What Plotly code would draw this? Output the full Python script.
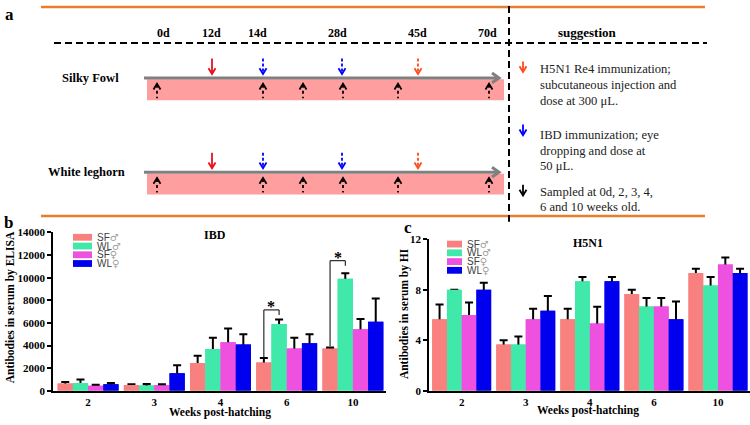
import plotly.graph_objects as go

# ---------------- data ----------------
weeks = ["2", "3", "4", "6", "10"]
series_names = ["SF♂", "WL♂", "SF♀", "WL♀"]
series_colors = ["#F8807E", "#40E8AA", "#EE50DF", "#0000EE"]

ibd_sf_m = [650, 520, 2450, 2500, 3750]
ibd_wl_m = [700, 480, 3700, 5900, 9900]
ibd_sf_f = [450, 500, 4300, 3750, 5450]
ibd_wl_f = [580, 1550, 4100, 4200, 6100]
ibd_sf_m_err = [130, 60, 650, 400, 80]
ibd_wl_m_err = [300, 130, 1000, 400, 500]
ibd_sf_f_err = [80, 80, 1200, 950, 900]
ibd_wl_f_err = [120, 700, 900, 800, 2050]

h5_sf_m = [5.67, 3.67, 5.67, 7.67, 9.33]
h5_wl_m = [8.0, 3.67, 8.67, 6.67, 8.33]
h5_sf_f = [6.0, 5.67, 5.33, 6.67, 10.0]
h5_wl_f = [8.0, 6.33, 8.67, 5.67, 9.33]
h5_sf_m_err = [1.17, 0.33, 0.83, 0.33, 0.33]
h5_wl_m_err = [None, 0.63, 0.33, 0.67, 0.67]
h5_sf_f_err = [1.0, 0.83, 1.33, 0.67, 0.55]
h5_wl_f_err = [0.55, 1.17, 0.33, 1.4, 0.33]

ibd_ticks = [0, 2000, 4000, 6000, 8000, 10000, 12000, 14000]
h5_ticks = [0, 4, 8, 12]

day_labels = ["0d", "12d", "14d", "28d", "45d", "70d"]
suggestion_lines = [
    "H5N1 Re4 immunization;", "subcutaneous injection and", "dose at 300 μL.",
    "IBD immunization; eye", "dropping and dose at", "50 μL.",
    "Sampled at 0d, 2, 3, 4,", "6 and 10 weeks old.",
]

# significance brackets (week index, y of left leg end, y of bracket top, y of right leg end)
ibd_sig = [(3, 2950, 7150, 6700), (4, 3950, 11500, 11050)]

W, H = 750, 425
SERIF = "Liberation Serif"
SANS = "Liberation Sans"


def X(p):
    return p / W


def Y(p):
    return 1 - p / H


shapes = []
annotations = []


def line(x0, y0, x1, y1, color="black", width=2, dash=None):
    d = dict(type="line", xref="paper", yref="paper", x0=X(x0), y0=Y(y0), x1=X(x1), y1=Y(y1),
             line=dict(color=color, width=width))
    if dash:
        d["line"]["dash"] = dash
    shapes.append(d)


def path(pts, color="black", width=2):
    s = "M " + " L ".join(f"{X(a):.5f},{Y(b):.5f}" for a, b in pts)
    shapes.append(dict(type="path", xref="paper", yref="paper", path=s,
                       line=dict(color=color, width=width)))


def rect(x0, y0, x1, y1, color):
    shapes.append(dict(type="rect", xref="paper", yref="paper", x0=X(x0), y0=Y(y0), x1=X(x1), y1=Y(y1),
                       fillcolor=color, line=dict(width=0), layer="below"))


def text(t, x, y, size=12, bold=True, xanchor="center", family=SERIF, color="black", angle=0):
    annotations.append(dict(text=f"<b>{t}</b>" if bold else t, x=X(x), y=Y(y), xref="paper", yref="paper",
                            showarrow=False, xanchor=xanchor, yanchor="middle", textangle=angle,
                            font=dict(family=family, size=size, color=color)))


def arrow_down(x, top, tip, color, dashed):
    line(x, top, x, tip - 1, color=color, width=1.8, dash="3px,2px" if dashed else None)
    path([(x - 3.5, tip - 6), (x, tip), (x + 3.5, tip - 6)], color=color, width=1.8)


def arrow_up(x, tip, bottom, color="black"):
    line(x, tip + 1, x, bottom, color=color, width=1.8, dash="3px,3px")
    path([(x - 3.5, tip + 6), (x, tip), (x + 3.5, tip + 6)], color=color, width=1.8)


# ---------------- panel a ----------------
ORANGE = "#E67E2E"
line(41, 1, 705, 1, ORANGE, 2.5)
line(41, 216, 705, 216, ORANGE, 2.5)
line(54, 38, 707, 38, "black", 2, "7px,4px")
line(509, 0, 509, 222, "black", 2, "7px,4px")
text("a", 9, 9, 17)
for lab, xp in zip(day_labels, [163, 211, 257, 337, 417, 488]):
    text(lab, xp, 28, 12)
text("suggestion", 587, 27, 13)

for name, y0, nx in [("Silky Fowl", 74, 90), ("White leghorn", 171, 86)]:
    text(name, nx, y0, 12.5)
    rect(147, y0 + 1.5, 504, y0 + 23, "#FF9E9E")
    line(144, y0, 499, y0, "#808080", 3)
    path([(492, y0 - 5), (499, y0), (492, y0 + 5)], "#808080", 3)
    arrow_down(212, y0 - 20, y0 - 4, "#E8101C", False)
    arrow_down(263, y0 - 20, y0 - 4, "#0000FF", True)
    arrow_down(342, y0 - 20, y0 - 4, "#0000FF", True)
    arrow_down(418, y0 - 20, y0 - 4, "#FF4A1A", True)
    for xa in [157, 263, 303, 343, 398, 489]:
        arrow_up(xa, y0 + 6, y0 + 21)

arrow_down(523, 57, 68, "#FF4A1A", False)
arrow_down(523, 122, 133, "#0000FF", False)
arrow_down(523, 184, 195, "black", False)
for t, yy in zip(suggestion_lines, [65, 81, 98, 133, 149, 165, 191, 207]):
    text(t, 538, yy, 12.6, bold=False, xanchor="left", color="#222")

# ---------------- panels b, c ----------------
fig = go.Figure()

ibd_vals = [ibd_sf_m, ibd_wl_m, ibd_sf_f, ibd_wl_f]
ibd_errs = [ibd_sf_m_err, ibd_wl_m_err, ibd_sf_f_err, ibd_wl_f_err]
h5_vals = [h5_sf_m, h5_wl_m, h5_sf_f, h5_wl_f]
h5_errs = [h5_sf_m_err, h5_wl_m_err, h5_sf_f_err, h5_wl_f_err]

for vals, errs, xa, ya in [(ibd_vals, ibd_errs, "x", "y"), (h5_vals, h5_errs, "x2", "y2")]:
    # bars with error bars (the lower halves get covered by the copies drawn on top)
    for name, col, v, e in zip(series_names, series_colors, vals, errs):
        fig.add_trace(go.Bar(x=weeks, y=v, name=name, marker=dict(color=col, line=dict(width=0)),
                             offsetgroup=name, xaxis=xa, yaxis=ya, showlegend=False,
                             error_y=dict(type="data", array=e, symmetric=True, color="black",
                                          thickness=2, width=4)))
    for name, col, v in zip(series_names, series_colors, vals):
        fig.add_trace(go.Bar(x=weeks, y=v, name=name, marker=dict(color=col, line=dict(width=0)),
                             offsetgroup=name, xaxis=xa, yaxis=ya, showlegend=False,
                             hoverinfo="skip"))

# significance brackets on IBD
bw = 0.92 / 4
for gi, ylow, ytop, yright in ibd_sig:
    xl = gi - 1.5 * bw
    xr = gi - 0.5 * bw
    shapes.append(dict(type="path", xref="x", yref="y",
                       path=f"M {xl},{ylow} L {xl},{ytop} L {xr},{ytop} L {xr},{yright}",
                       line=dict(color="black", width=1)))
    annotations.append(dict(text="<b>*</b>", x=(xl + xr) / 2, y=ytop, xref="x", yref="y",
                            showarrow=False, yanchor="bottom", yshift=-7,
                            font=dict(family=SERIF, size=16, color="black")))


# custom legends
def legend(x0, x1, rows, tx):
    for name, col, yy in zip(series_names, series_colors, rows):
        rect(x0, yy - 3.5, x1, yy + 3.5, col)
        sym = name[-1]
        text(f"{name[:-1]}<span style='color:#a0a0a0;font-family:DejaVu Sans'>{sym}</span>", tx, yy, 10,
             bold=False, xanchor="left", family=SANS, color="#404040")


legend(73, 92, [238, 247, 256, 265], 95)
legend(447, 462, [245, 254, 263, 272], 465)

text("b", 8, 223, 17)
text("c", 408, 228, 17)
text("IBD", 215, 236, 12)
text("H5N1", 588, 244, 12)
text("Weeks post-hatching", 220, 418, 11.5)
text("Weeks post-hatching", 588, 416, 11.5)
text("Antibodies in serum by ELISA", 10, 310, 11.5, angle=-90)
text("Antibodies in serum by HI", 404, 316, 11.5, angle=-90)

axis_common = dict(showline=True, linecolor="black", linewidth=1.5, showgrid=False, zeroline=False,
                   tickfont=dict(family=SERIF, size=11, color="black", weight="bold"))

fig.update_layout(
    width=W, height=H, margin=dict(l=0, r=0, t=0, b=0),
    paper_bgcolor="white", plot_bgcolor="rgba(0,0,0,0)",
    barmode="group", bargap=0.08, bargroupgap=0,
    showlegend=False,
    shapes=shapes, annotations=annotations,
    xaxis=dict(domain=[X(53), X(386)], range=[-0.53, 4.5], type="category", ticks="",
               anchor="y", **axis_common),
    yaxis=dict(domain=[Y(396), Y(233)], range=[0, 14000], tickvals=ibd_ticks, tickformat="d",
               ticks="outside", ticklen=4, tickwidth=1.5, tickcolor="black", anchor="x", **axis_common),
    xaxis2=dict(domain=[X(429), X(750)], range=[-0.51, 4.5], type="category", ticks="",
                anchor="y2", **axis_common),
    yaxis2=dict(domain=[Y(396), Y(240)], range=[0, 12], tickvals=h5_ticks, tickformat="d",
                ticks="outside", ticklen=4, tickwidth=1.5, tickcolor="black", anchor="x2", **axis_common),
)

fig.write_html("out.html", config={"displayModeBar": False},
               post_script="document.body.style.margin='0';document.body.style.overflow='hidden';")
